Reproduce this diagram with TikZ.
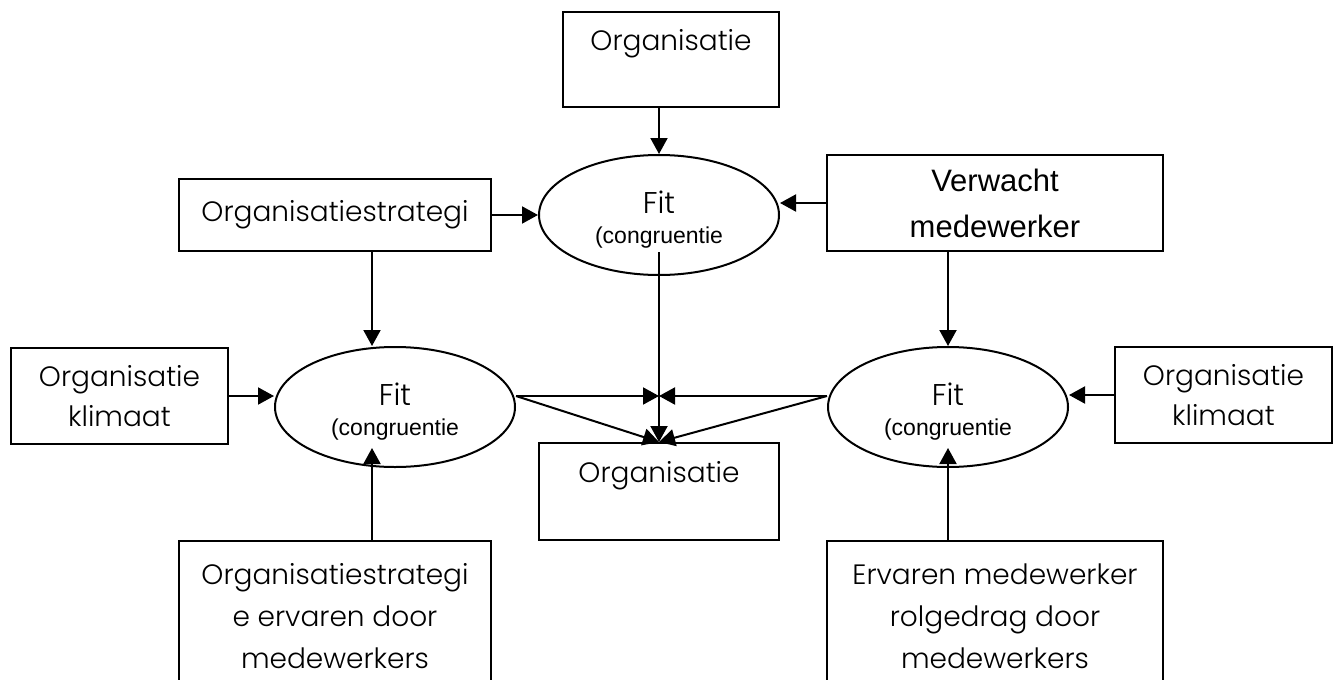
\documentclass[tikz,border=0pt]{standalone}
\usepackage{fontspec}
\setmainfont{Poppins}[UprightFont=* Light]
\newfontfamily\arialfont{Liberation Sans}
\usetikzlibrary{shapes.geometric,arrows.meta}

\begin{document}
\begin{tikzpicture}[
            x=1pt, y=-1pt,
            line width=2pt,
            box/.style={draw, rectangle, inner sep=0pt, align=center,
                font=\fontsize{28}{40}\selectfont},
            congr/.style={draw, ellipse, minimum width=240pt, minimum height=120pt,
                inner sep=0pt, align=center, font=\fontsize{30}{30.5}\selectfont},
            arr/.style={-{Triangle[length=16pt,width=17pt]}}]
            \clip (0,0) rectangle (1339,680);
            % boxes
            \node[box, minimum width=216pt, minimum height=95pt] (orgTop) at (671,59.5) {Organisatie\\ \mbox{}};
            \node[box, minimum width=312pt, minimum height=72pt] (stratTop) at (335,215) {Organisatiestrategi};
            \node[box, minimum width=336pt, minimum height=96pt, font=\arialfont\fontsize{31}{46}\selectfont]
                (verwacht) at (995,203) {Verwacht\\medewerker};
            \node[box, minimum width=217pt, minimum height=96pt] (klimL) at (119.5,396) {Organisatie\\klimaat};
            \node[box, minimum width=217pt, minimum height=96pt] (klimR) at (1223.5,395) {Organisatie\\klimaat};
            \node[box, minimum width=240pt, minimum height=97pt] (orgMid) at (659,491.5) {Organisatie\\ \mbox{}};
            \node[box, anchor=north, minimum width=312pt, minimum height=150pt, font=\fontsize{28}{42}\selectfont]
                (stratBot) at (335,540) {Organisatiestrategi\\e ervaren door\\medewerkers};
            \node[box, anchor=north, minimum width=336pt, minimum height=150pt, font=\fontsize{28}{42}\selectfont]
                (ervaren) at (995,540) {Ervaren medewerker\\rolgedrag door\\medewerkers};
            % fit ellipses
            \node[congr] (fitTop) at (659,215) {\rule{0pt}{32pt}Fit\\{\arialfont\fontsize{23}{28}\selectfont(congruentie}};
            \node[congr] (fitLeft) at (395,407) {\rule{0pt}{32pt}Fit\\{\arialfont\fontsize{23}{28}\selectfont(congruentie}};
            \node[congr] (fitRight) at (948,407) {\rule{0pt}{32pt}Fit\\{\arialfont\fontsize{23}{28}\selectfont(congruentie}};
            \coordinate (meet) at (orgMid.north |- klimL.east);
            % arrows
            \draw[arr] (fitTop.north |- orgTop.south) -- (fitTop.north);
            \draw[arr] (stratTop.east) -- (fitTop.west);
            \draw[arr] (verwacht.west) -- (verwacht.west -| fitTop.east);
            \draw[arr] ([xshift=37pt]stratTop.south) -- ([xshift=37pt]stratTop.south |- fitLeft.north);
            \draw[arr] (verwacht.south -| fitRight.north) -- (fitRight.north);
            \draw[arr] (klimL.east) -- (klimL.east -| fitLeft.west);
            \draw[arr] (klimR.west) -- (klimR.west -| fitRight.east);
            \draw[arr, shorten >=-20pt] ([xshift=37pt]stratBot.north) -- ([xshift=37pt]stratBot.north |- fitLeft.south);
            \draw[arr, shorten >=-20pt] (ervaren.north -| fitRight.south) -- (fitRight.south);
            \draw[arr, shorten <=-24pt] (fitTop.south) -- (orgMid.north);
            \draw[arr] (fitLeft.east |- meet) -- (meet);
            \draw[arr] (fitRight.west |- meet) -- (meet);
            \draw[arr] (fitLeft.east |- meet) -- (orgMid.north);
            \draw[arr] (fitRight.west |- meet) -- (orgMid.north);
\end{tikzpicture}
\end{document}
